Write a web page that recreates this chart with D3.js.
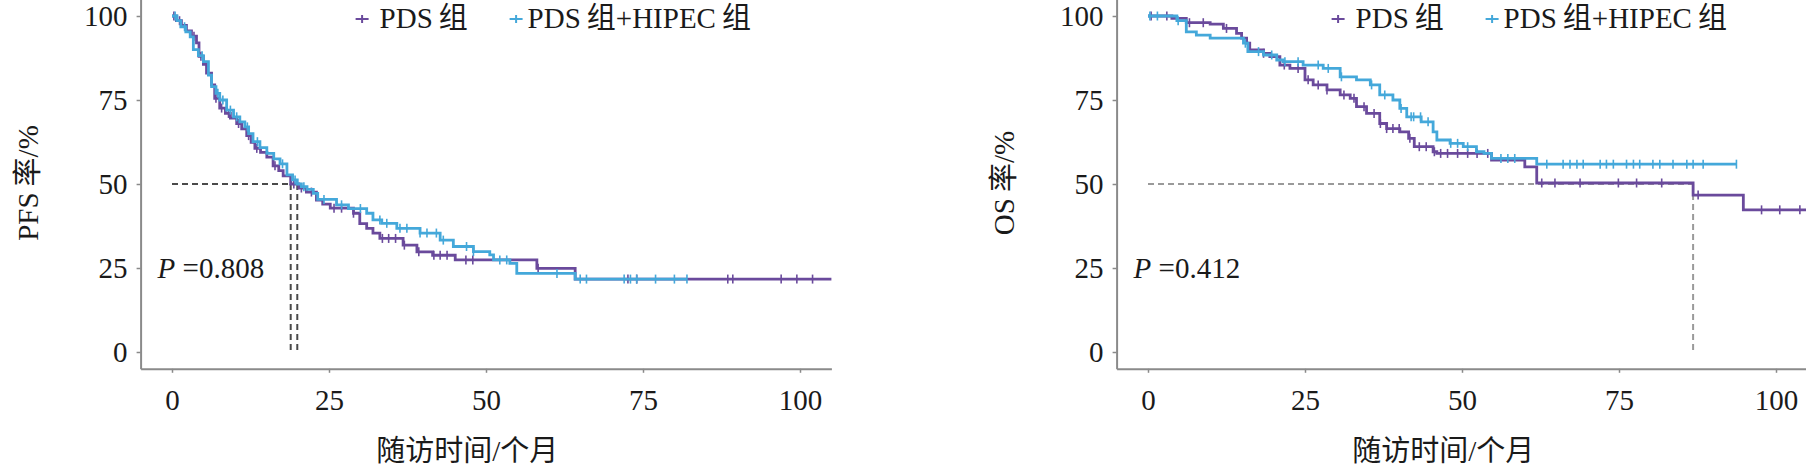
<!DOCTYPE html>
<html>
<head>
<meta charset="utf-8">
<title>PFS / OS</title>
<script src="https://cdnjs.cloudflare.com/ajax/libs/d3/7.8.5/d3.min.js"></script>
<style>
  body { margin: 0; background: #fff; }
  svg { display: block; }
  text { font-family: "Liberation Serif", "Noto Sans CJK SC", serif; fill: #1a1a1a; }
</style>
</head>
<body>
<script>
var xTicks = [0, 25, 50, 75, 100];
var yTicks = [0, 25, 50, 75, 100];
var seriesNames = ["PDS组", "PDS组+HIPEC组"];
var xTitle = "随访时间/个月";

// PFS, PDS group: [month, survival %] at each drop
var pfsPds = [[0,100],[0.7,98.6],[1.5,97.2],[2.3,95.6],[3.1,94],[3.9,92],[4.3,88],[5,85.6],[5.5,83],
  [6.3,79.5],[6.8,75.5],[7.6,72.6],[8.5,71],[9.3,69.6],[10.3,68],[11.1,66.4],[11.9,64.4],[12.6,62.4],
  [13.2,60.6],[14.1,59.4],[15.1,58],[16.1,55.4],[17,54],[17.7,52.4],[18.9,50],[20.2,48.8],[21.4,47.6],
  [23,45.2],[24,44],[25.2,42.8],[28.9,41.3],[29.9,38.2],[31,36.8],[32,35.4],[33.1,33.8],[36.8,31.8],
  [39,29.8],[41.5,28.8],[45.1,27.4],[58.1,24.9],[64.2,21.7]];
var pfsPdsLast = 105;
var pfsPdsCensor = [0.3,1.2,3.5,4.6,7,7.9,9,10.6,12.2,13.5,16.4,19.4,20.6,22.2,25.8,27,28.9,33.5,34.5,
  35.6,37,39.3,41.7,42.7,43.8,46.8,47.9,58.3,72.6,74,88.5,89.3,97,99.5,102];

// PFS, PDS + HIPEC group
var pfsHipec = [[0,100],[0.8,98.6],[1.4,96.8],[2.2,95.3],[2.9,93.8],[3.4,90],[4.2,88.2],[5,86.4],[5.8,82.4],
  [6.3,79],[7,77],[7.6,75],[8.7,72],[9.8,70],[10.8,68.5],[11.6,67],[12.2,65],[12.9,62.6],[14,60.8],
  [15.1,59.1],[16.2,57.5],[17.2,56],[18.3,52.7],[19.2,51.2],[19.95,50],[20.6,49.2],[21.5,48.4],[22.5,47.2],
  [23.2,45.4],[26.2,43.8],[28.1,42.7],[31,41.3],[32,39.3],[33.4,38.3],[35.8,36.8],[39.5,35.4],[42.7,33.3],
  [44.8,31.4],[48,29.9],[50.6,28.9],[51.2,27.4],[53.8,26.4],[54.9,23.4],[64.2,21.7]];
var pfsHipecLast = 82;
var pfsHipecCensor = [0.5,2,4.8,7.3,8.1,9.3,10.3,12,13.6,17.6,19.6,21,24.2,27,30,33.1,34.2,36.3,37.4,
  39.5,40.6,42.1,43.2,46.9,48,52.2,53.3,61.3,65,66,72,73,74,77,80,82];

// OS, PDS group
var osPds = [[0,100],[3.8,99.3],[6.1,98],[9.9,97.6],[12,96.3],[14.1,94.8],[14.9,93.4],[15.7,91.9],[16.2,89.9],
  [18.4,88.9],[19.4,87.9],[21,85.4],[22.6,84.4],[25,81],[26.3,79.5],[28.5,78],[30.6,76.5],[32.2,75.5],
  [33.2,73],[34.8,71],[36.9,68],[38,66.5],[40.1,65.5],[41.5,63.6],[42.4,61.1],[45.4,59.6],[46,59.1],
  [54.7,57.1],[60,55.1],[61.9,50.3],[86.8,46.7],[94.8,42.3]];
var osPdsLast = 105;
var osPdsCensor = [0.5,3,6.6,8.8,12.5,18.4,21.7,23.9,25.5,27.1,28.5,31.2,32.8,34.4,36,37,38,39,40,41.7,
  43.2,44.3,45.6,46.6,47.7,49.3,50.9,52.4,54.1,62.7,64.8,68.8,74.9,77.8,81.8,87.6,97.7,100.6,103.8];

// OS, PDS + HIPEC group
var osHipec = [[0,100],[4.6,98.6],[6.1,95.3],[7.7,94.3],[9.9,93.4],[15.2,91.9],[15.9,89.4],[18.4,88.4],
  [20.5,86.9],[21.5,86.4],[24.7,85.4],[27.9,84.4],[30.6,81.9],[33.2,81],[35.4,79.5],[36.9,76.5],[39,75],
  [40.1,72.5],[41.2,70],[43.5,68.5],[45.4,65.5],[46,63.1],[48.1,62.1],[50.2,61.1],[52.3,59.6],[53.5,59.1],
  [54.7,57.6],[61.9,55.9]];
var osHipecLast = 93.7;
var osHipecCensor = [0.3,1.5,4.8,15.5,17.6,19.7,21.8,23.9,27.1,28.7,30.8,35.6,37.7,40.3,41.9,42.3,43.4,44.6,
  48.2,49.3,50.9,56.2,57.3,58.4,63.5,66.1,67.2,68.3,69.3,72,73,74.1,76.2,77.3,78.3,80.4,81.5,83.6,85.8,
  86.8,88.4,93.7];

var pfsMedians = [18.9, 19.95];
var osMedians = [86.8];
var pValues = ["0.808", "0.412"];

var width = 1806, height = 467;
var purple = "#6a4a9c", blue = "#44a8da", axisColor = "#8a8a8a";

var svg = d3.select("body").append("svg")
  .attr("width", width)
  .attr("height", height);

function survAt(steps, t) {
  var s = steps[0][1];
  steps.forEach(function(d) { if (d[0] <= t) s = d[1]; });
  return s;
}

// write a label, leaving a small gap before each CJK character like the original typesetting
function spacedText(sel, str) {
  str.split(/(组|率)/).forEach(function(part) {
    if (!part) return;
    var t = sel.append("tspan").text(part);
    if (part === "组" || part === "率") t.attr("dx", 6);
  });
}

function drawPanel(left, yTitle, groups, medians, medianColor, pValue) {
  var x = d3.scaleLinear().domain([-5, 105]).range([left, left + 690.8]);
  var y = d3.scaleLinear().domain([-5, 105]).range([368.8, -0.8]);
  var g = svg.append("g");

  var xAxis = g.append("g")
    .attr("transform", "translate(0," + y(-5) + ")")
    .call(d3.axisBottom(x).tickValues(xTicks).tickSize(4).tickSizeOuter(0).tickPadding(17));
  var yAxis = g.append("g")
    .attr("transform", "translate(" + x(-5) + ",0)")
    .call(d3.axisLeft(y).tickValues(yTicks).tickSize(4).tickSizeOuter(0).tickPadding(9));
  [xAxis, yAxis].forEach(function(a) {
    a.select(".domain").attr("stroke", axisColor).attr("stroke-width", 2);
    a.selectAll(".tick line").attr("stroke", axisColor).attr("stroke-width", 1.5);
    a.selectAll(".tick text").attr("font-size", 29).attr("font-family", "Liberation Serif").attr("fill", "#1a1a1a");
  });

  // median guide lines
  var dash = g.append("g")
    .attr("stroke", medianColor)
    .attr("stroke-width", 2)
    .attr("stroke-dasharray", "6,4")
    .attr("fill", "none");
  dash.append("line")
    .attr("x1", x(0)).attr("x2", x(d3.max(medians)))
    .attr("y1", y(50)).attr("y2", y(50));
  dash.selectAll("line.v").data(medians).enter().append("line")
    .attr("class", "v")
    .attr("x1", function(d) { return x(d); }).attr("x2", function(d) { return x(d); })
    .attr("y1", y(50)).attr("y2", y(0));

  var line = d3.line()
    .x(function(d) { return x(d[0]); })
    .y(function(d) { return y(d[1]); })
    .curve(d3.curveStepAfter);

  groups.forEach(function(grp) {
    var pts = grp.steps.concat([[grp.last, grp.steps[grp.steps.length - 1][1]]]);
    g.append("path")
      .datum(pts)
      .attr("fill", "none")
      .attr("stroke", grp.color)
      .attr("stroke-width", 2.8)
      .attr("d", line);
    g.selectAll(null).data(grp.censor).enter().append("line")
      .attr("stroke", grp.color)
      .attr("stroke-width", 1.6)
      .attr("x1", function(d) { return x(d); }).attr("x2", function(d) { return x(d); })
      .attr("y1", function(d) { return y(survAt(grp.steps, d)) - 4.5; })
      .attr("y2", function(d) { return y(survAt(grp.steps, d)) + 4.5; });
  });

  // legend
  var legendX = [left + 215, left + 369];
  groups.forEach(function(grp, i) {
    var lx = legendX[i];
    var lg = g.append("g").attr("stroke", grp.color).attr("stroke-width", 2);
    lg.append("line").attr("x1", lx).attr("x2", lx + 13).attr("y1", 19).attr("y2", 19);
    lg.append("line").attr("x1", lx + 6.5).attr("x2", lx + 6.5).attr("y1", 15).attr("y2", 23);
    var lt = g.append("text")
      .attr("x", lx + (i === 0 ? 24 : 18))
      .attr("y", 28)
      .attr("font-size", 29);
    spacedText(lt, seriesNames[i]);
  });

  // P value
  var pt = g.append("text")
    .attr("x", left + 17)
    .attr("y", y(25) + 10)
    .attr("font-size", 29);
  pt.append("tspan").attr("font-style", "italic").text("P");
  pt.append("tspan").text(" =" + pValue);

  // axis titles
  g.append("text")
    .attr("x", x(47))
    .attr("y", 461)
    .attr("text-anchor", "middle")
    .attr("font-size", 29)
    .text(xTitle);
  var yt = g.append("text")
    .attr("transform", "translate(" + (left - 113) + ",183) rotate(-90)")
    .attr("text-anchor", "middle")
    .attr("dy", "0.35em")
    .attr("font-size", 29);
  spacedText(yt, yTitle);
}

drawPanel(140.6, "PFS率/%", [
  { steps: pfsPds, last: pfsPdsLast, censor: pfsPdsCensor, color: purple },
  { steps: pfsHipec, last: pfsHipecLast, censor: pfsHipecCensor, color: blue }
], pfsMedians, "#4a4a4a", pValues[0]);

drawPanel(1116.6, "OS率/%", [
  { steps: osPds, last: osPdsLast, censor: osPdsCensor, color: purple },
  { steps: osHipec, last: osHipecLast, censor: osHipecCensor, color: blue }
], osMedians, "#9a9a9a", pValues[1]);
</script>
</body>
</html>
